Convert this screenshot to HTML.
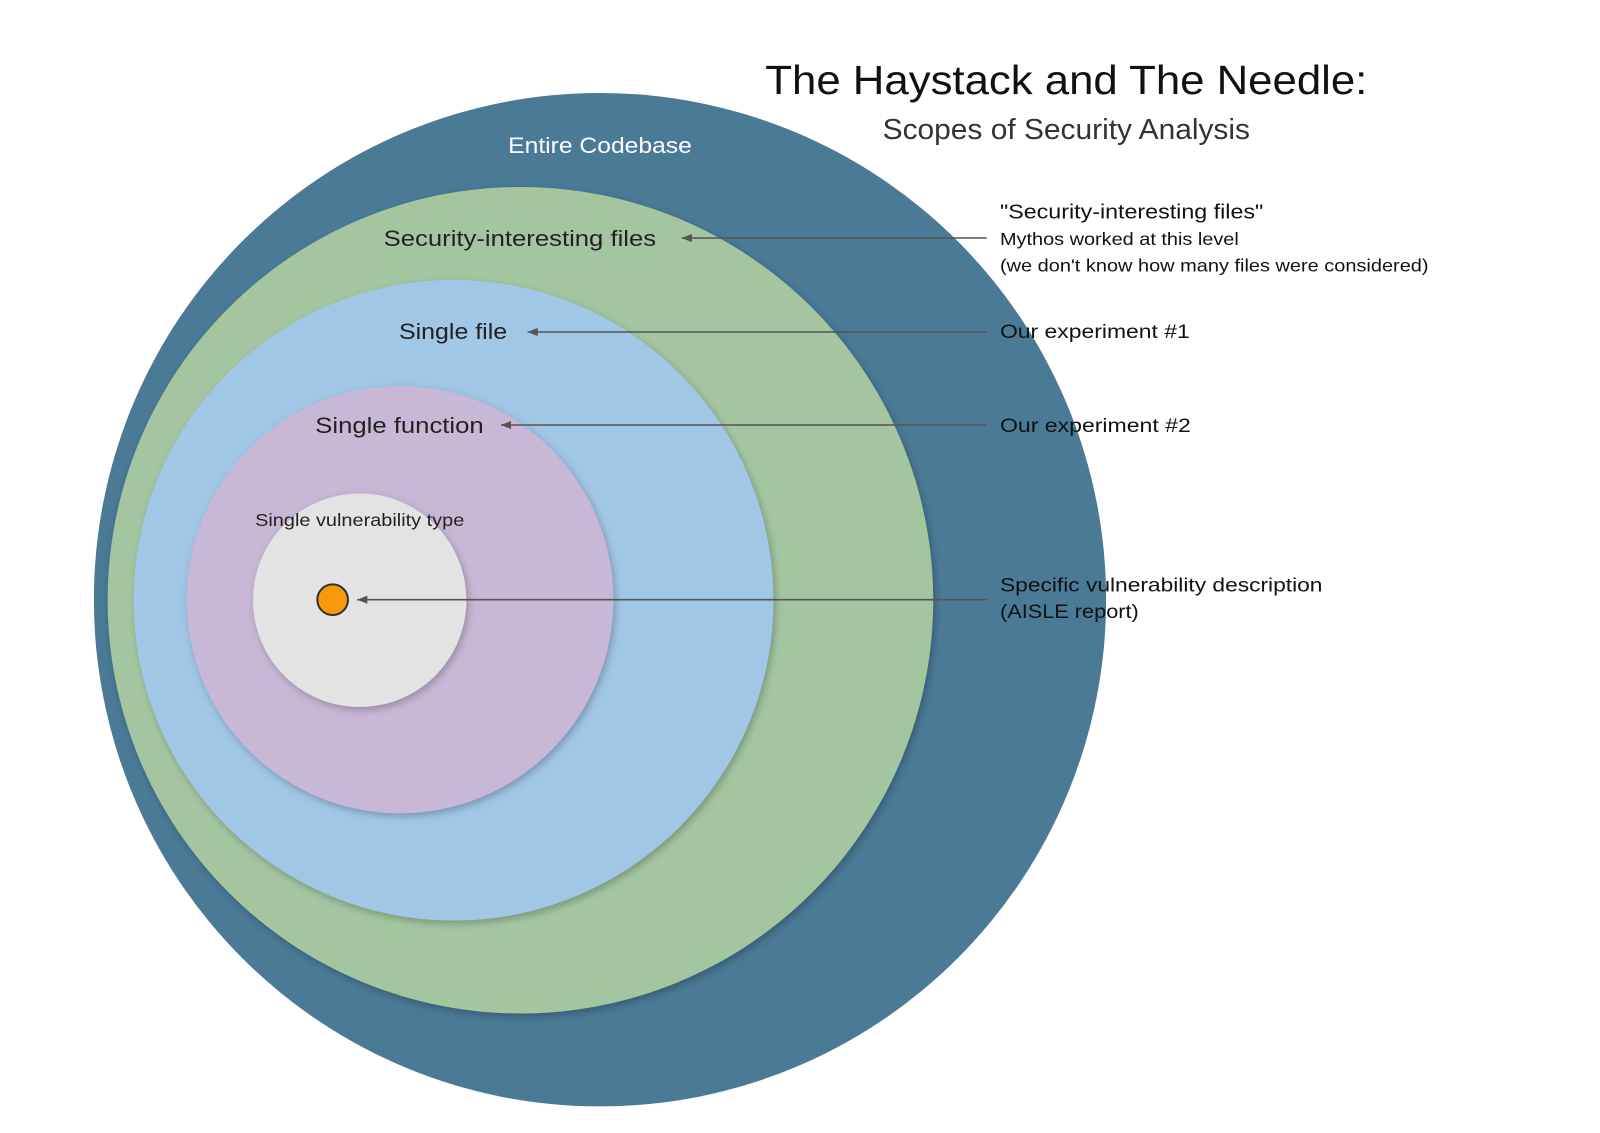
<!DOCTYPE html>
<html><head><meta charset="utf-8"><style>html,body{margin:0;padding:0;background:#fff}svg{display:block}</style></head>
<body>
<svg width="1600" height="1133" viewBox="0 0 1568 1109" preserveAspectRatio="none" xmlns="http://www.w3.org/2000/svg" font-family="'Liberation Sans', 'DejaVu Sans', sans-serif">
<defs>
<filter id="sh" x="-10%" y="-10%" width="120%" height="120%"><feDropShadow dx="2" dy="3" stdDeviation="4" flood-color="#000" flood-opacity="0.25"/></filter>
<marker id="ar" markerWidth="10" markerHeight="8" refX="10" refY="4" orient="auto" markerUnits="userSpaceOnUse"><path d="M0,0 L10,4 L0,8 z" fill="#555"/></marker>
</defs>
<rect width="1568" height="1109" fill="#fff"/>
<circle cx="588" cy="587" r="496" fill="#4a7a96"/>
<circle cx="510" cy="587.5" r="404.5" fill="#a3c6a1" filter="url(#sh)"/>
<circle cx="444.5" cy="587.5" r="313.5" fill="#a1c7e6" filter="url(#sh)"/>
<circle cx="392" cy="587" r="209" fill="#c8b8d6" filter="url(#sh)"/>
<circle cx="352.5" cy="587.5" r="104.5" fill="#e3e3e3" filter="url(#sh)"/>
<circle cx="326" cy="587" r="15" fill="#f7990b" stroke="#333" stroke-width="2"/>

<g stroke="#555" stroke-width="1.5" fill="none">
<line x1="967" y1="233" x2="668" y2="233" marker-end="url(#ar)"/>
<line x1="967" y1="325" x2="517" y2="325" marker-end="url(#ar)"/>
<line x1="967" y1="416" x2="491" y2="416" marker-end="url(#ar)"/>
<line x1="967" y1="587" x2="350" y2="587" marker-end="url(#ar)"/>
</g>

<text x="750" y="92" font-size="40" fill="#111" textLength="590" lengthAdjust="spacingAndGlyphs">The Haystack and The Needle:</text>
<text x="865" y="136" font-size="28" fill="#333" textLength="360" lengthAdjust="spacingAndGlyphs">Scopes of Security Analysis</text>

<text x="498" y="150" font-size="22" fill="#fff" textLength="180" lengthAdjust="spacingAndGlyphs">Entire Codebase</text>
<text x="376" y="241" font-size="22" fill="#222" textLength="267" lengthAdjust="spacingAndGlyphs">Security-interesting files</text>
<text x="391" y="332" font-size="22" fill="#222" textLength="106" lengthAdjust="spacingAndGlyphs">Single file</text>
<text x="309" y="424" font-size="22" fill="#222" textLength="165" lengthAdjust="spacingAndGlyphs">Single function</text>
<text x="250" y="515" font-size="17" fill="#222" textLength="205" lengthAdjust="spacingAndGlyphs">Single vulnerability type</text>

<text x="980" y="214" font-size="20" fill="#111" textLength="258" lengthAdjust="spacingAndGlyphs">"Security-interesting files"</text>
<text x="980" y="240" font-size="17" fill="#111" textLength="234" lengthAdjust="spacingAndGlyphs">Mythos worked at this level</text>
<text x="980" y="266" font-size="17" fill="#111" textLength="420" lengthAdjust="spacingAndGlyphs">(we don't know how many files were considered)</text>
<text x="980" y="331" font-size="19" fill="#111" textLength="186" lengthAdjust="spacingAndGlyphs">Our experiment #1</text>
<text x="980" y="423" font-size="19" fill="#111" textLength="187" lengthAdjust="spacingAndGlyphs">Our experiment #2</text>
<text x="980" y="579" font-size="19" fill="#111" textLength="316" lengthAdjust="spacingAndGlyphs">Specific vulnerability description</text>
<text x="980" y="605" font-size="19" fill="#111" textLength="136" lengthAdjust="spacingAndGlyphs">(AISLE report)</text>
</svg>
</body></html>
